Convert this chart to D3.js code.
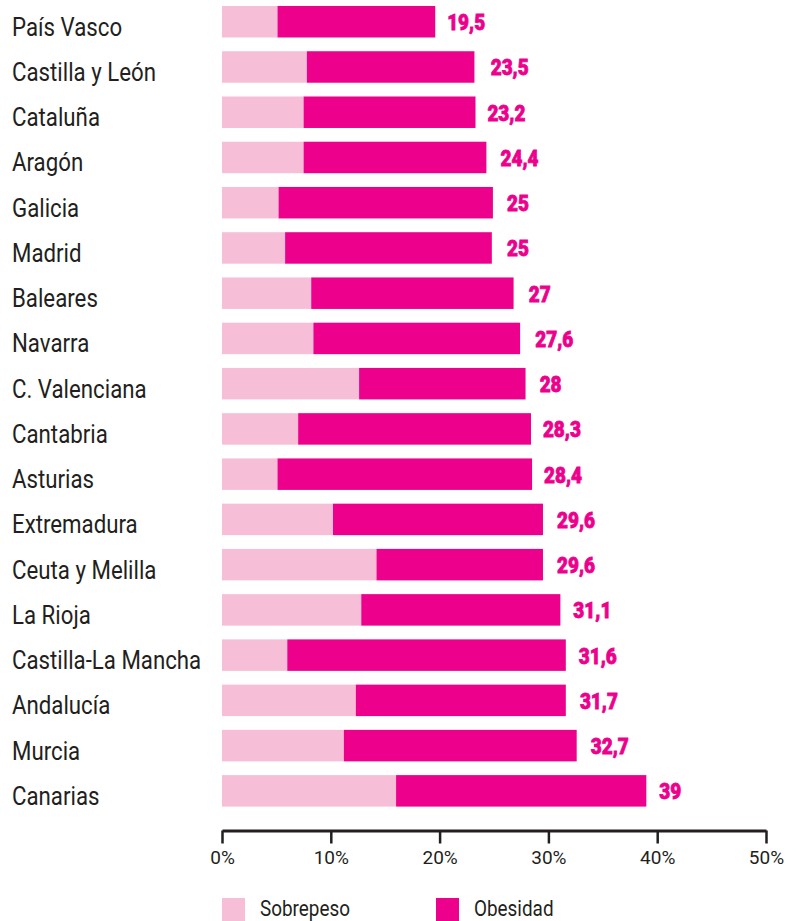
<!DOCTYPE html>
<html>
<head>
<meta charset="utf-8">
<script src="https://cdn.jsdelivr.net/npm/d3@7"></script>
<style>
  html, body { margin: 0; padding: 0; background: #ffffff; }
  svg { display: block; }
</style>
</head>
<body>
<svg id="chart" width="797" height="921"></svg>
<script>
const categories = ["País Vasco", "Castilla y León", "Cataluña", "Aragón", "Galicia", "Madrid",
  "Baleares", "Navarra", "C. Valenciana", "Cantabria", "Asturias", "Extremadura",
  "Ceuta y Melilla", "La Rioja", "Castilla-La Mancha", "Andalucía", "Murcia", "Canarias"];
const sobrepeso = [5.1, 7.8, 7.5, 7.5, 5.2, 5.8, 8.2, 8.4, 12.6, 7.0, 5.1, 10.2, 14.2, 12.8, 6.0, 12.3, 11.2, 16.0];
const obesidad  = [14.5, 15.4, 15.8, 16.8, 19.7, 19.0, 18.6, 19.0, 15.3, 21.4, 23.4, 19.3, 15.3, 18.3, 25.6, 19.3, 21.4, 23.0];
const totalLabels = ["19,5", "23,5", "23,2", "24,4", "25", "25", "27", "27,6", "28", "28,3", "28,4", "29,6",
  "29,6", "31,1", "31,6", "31,7", "32,7", "39"];
const totals = [19.5, 23.5, 23.2, 24.4, 25, 25, 27, 27.6, 28, 28.3, 28.4, 29.6, 29.6, 31.1, 31.6, 31.7, 32.7, 39];
const tickValues = [0, 10, 20, 30, 40, 50];
const seriesNames = ["Sobrepeso", "Obesidad"];
const colors = ["#f7bfd7", "#ec008c"];

const svg = d3.select("#chart");
const textColor = "#231f20";

const x = d3.scaleLinear().domain([0, 50]).range([222, 766]);
const y = d3.scaleBand().domain(categories).range([6, 806.6]).paddingInner(0.304).paddingOuter(0);

const rows = categories.map((c, i) => ({ c, s: sobrepeso[i], o: obesidad[i], t: totals[i], lab: totalLabels[i] }));

const g = svg.append("g");

// Sobrepeso segment
g.selectAll("rect.sob").data(rows).join("rect")
  .attr("class", "sob")
  .attr("x", x(0))
  .attr("y", d => y(d.c))
  .attr("width", d => x(d.s) - x(0))
  .attr("height", y.bandwidth())
  .attr("fill", colors[0]);

// Obesidad segment
g.selectAll("rect.obe").data(rows).join("rect")
  .attr("class", "obe")
  .attr("x", d => x(d.s))
  .attr("y", d => y(d.c))
  .attr("width", d => x(d.s + d.o) - x(d.s))
  .attr("height", y.bandwidth())
  .attr("fill", colors[1]);

// Category labels
g.selectAll("text.cat").data(rows).join("text")
  .attr("class", "cat")
  .attr("transform", d => `translate(12,${y(d.c) + y.bandwidth() / 2 + 14}) scale(0.89,1)`)
  .attr("font-family", "Roboto, sans-serif")
  .attr("font-size", 25)
  .attr("fill", textColor)
  .text(d => d.c);

// Value labels
g.selectAll("text.val").data(rows).join("text")
  .attr("class", "val")
  .attr("transform", d => `translate(${x(d.t) + 13},${y(d.c) + y.bandwidth() / 2 + 8.5}) scale(0.86,1)`)
  .attr("font-family", "Roboto, sans-serif")
  .attr("font-weight", 900)
  .attr("font-size", 22)
  .attr("fill", "#ec008c")
  .attr("stroke", "#ec008c")
  .attr("stroke-width", 0.8)
  .text(d => d.lab);

// Axis
const axis = d3.axisBottom(x).tickValues(tickValues).tickSize(13).tickSizeOuter(0)
  .tickFormat(d => d + "%");
const ax = svg.append("g").attr("transform", "translate(0,830.5)").call(axis);
ax.select(".domain").attr("stroke", textColor).attr("stroke-width", 3);
ax.selectAll(".tick line").attr("stroke", textColor).attr("stroke-width", 2.5);
ax.selectAll(".tick text")
  .attr("y", 33.5).attr("dy", 0)
  .attr("font-family", "Roboto, sans-serif")
  .attr("font-size", 19)
  .attr("fill", textColor);

// Legend
const legendX = [222, 436];
const leg = svg.append("g");
seriesNames.forEach((name, i) => {
  leg.append("rect")
    .attr("x", legendX[i]).attr("y", 898)
    .attr("width", 23).attr("height", 23)
    .attr("fill", colors[i]);
  leg.append("text")
    .attr("transform", `translate(${legendX[i] + 38},916) scale(0.84,1)`)
    .attr("font-family", "Roboto, sans-serif")
    .attr("font-size", 22.5)
    .attr("fill", textColor)
    .text(name);
});
</script>
</body>
</html>
